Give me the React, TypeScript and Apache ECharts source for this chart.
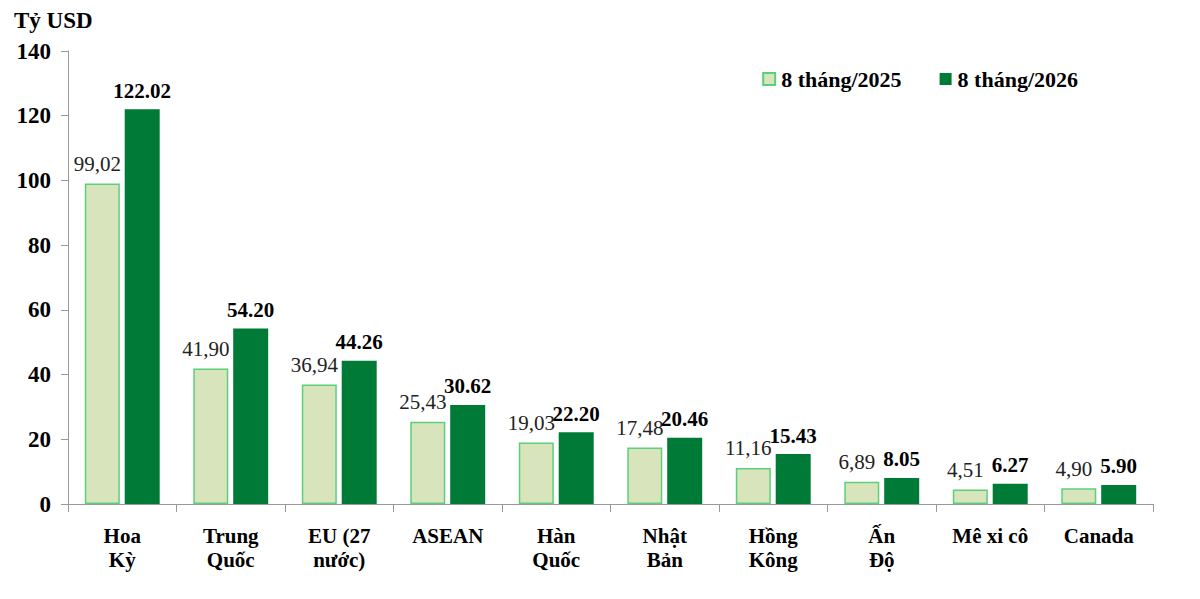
import React, { useEffect, useRef } from "react";
import * as echarts from "echarts";

const categories = ["Hoa\nKỳ", "Trung\nQuốc", "EU (27\nnước)", "ASEAN", "Hàn\nQuốc", "Nhật\nBản", "Hồng\nKông", "Ấn\nĐộ", "Mê xi cô", "Canada"];
const values2025 = [99.02, 41.9, 36.94, 25.43, 19.03, 17.48, 11.16, 6.89, 4.51, 4.9];
const values2026 = [122.02, 54.2, 44.26, 30.62, 22.2, 20.46, 15.43, 8.05, 6.27, 5.9];
const seriesNames = ["8 tháng/2025", "8 tháng/2026"];

const FONT = "Liberation Serif";

const App = () => {
  const chartRef = useRef<HTMLDivElement>(null);

  useEffect(() => {
    document.body.style.margin = "0";
    const myChart = echarts.init(chartRef.current!, null, { renderer: "svg" });
    const option = {
      animation: false,
      textStyle: { fontFamily: FONT },
      title: {
        text: "Tỷ USD",
        left: 9,
        top: 4,
        textStyle: { fontFamily: FONT, fontSize: 23, fontWeight: "bold", color: "#000" },
      },
      legend: {
        right: 117,
        top: 63,
        icon: "rect",
        itemWidth: 12,
        itemHeight: 12,
        itemGap: 38,
        textStyle: { fontFamily: FONT, fontSize: 22, fontWeight: "bold", color: "#000", padding: [0, 0, 0, 1] },
        data: seriesNames,
      },
      grid: { left: 68, right: 47, top: 51, bottom: 95 },
      xAxis: {
        type: "category",
        data: categories,
        axisLine: { lineStyle: { color: "#999" } },
        axisTick: { show: true, alignWithLabel: false, length: 8, lineStyle: { color: "#999" } },
        axisLabel: {
          fontFamily: FONT,
          fontSize: 21,
          fontWeight: "bold",
          color: "#000",
          margin: 20,
          lineHeight: 24,
          interval: 0,
        },
      },
      yAxis: {
        type: "value",
        min: 0,
        max: 140,
        interval: 20,
        splitLine: { show: false },
        axisLine: { show: true, lineStyle: { color: "#999" } },
        axisTick: { show: true, length: 7, lineStyle: { color: "#999" } },
        axisLabel: {
          fontFamily: FONT,
          fontSize: 23,
          fontWeight: "bold",
          color: "#000",
          margin: 17,
        },
      },
      series: [
        {
          name: seriesNames[0],
          type: "bar",
          data: values2025,
          barWidth: 35,
          barGap: "14%",
          itemStyle: { color: "#d8e4bc", borderColor: "#5ccf7b", borderWidth: 1.5 },
          label: {
            show: true,
            position: "top",
            offset: [-5, 0],
            distance: 9,
            fontFamily: FONT,
            fontSize: 21,
            color: "#222",
            formatter: (p: any) => p.value.toFixed(2).replace(".", ","),
          },
        },
        {
          name: seriesNames[1],
          type: "bar",
          data: values2026,
          barWidth: 35,
          itemStyle: { color: "#007a37" },
          label: {
            show: true,
            position: "top",
            distance: 8,
            fontFamily: FONT,
            fontSize: 21,
            fontWeight: "bold",
            color: "#000",
            formatter: (p: any) => p.value.toFixed(2),
          },
        },
      ],
    };
    myChart.setOption(option);
    return () => {
      myChart.dispose();
    };
  }, []);

  return <div ref={chartRef} style={{ width: 1200, height: 599 }}></div>;
};

export default App;
